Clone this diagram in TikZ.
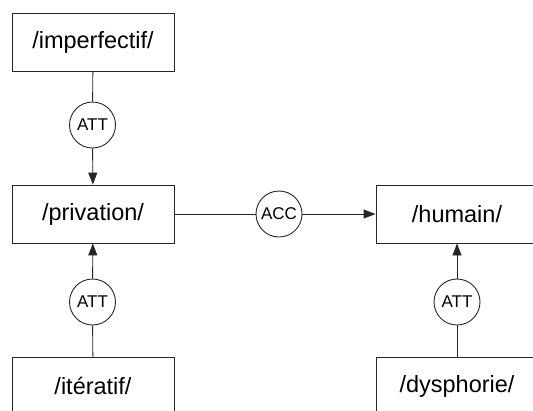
\documentclass[tikz,border=0pt]{standalone}
\usepackage{fontspec}
\setmainfont{Liberation Sans}
\usetikzlibrary{arrows.meta}
\begin{document}
\begin{tikzpicture}[x=1pt,y=-1pt,
  concept/.style={draw=black!85,line width=0.9pt,rectangle,minimum width=162pt,minimum height=58pt,inner sep=0pt,font=\fontsize{23.5}{26}\selectfont},
  relation/.style={draw=black!85,line width=0.9pt,circle,minimum size=46pt,inner sep=0pt,font=\fontsize{17}{19}\selectfont},
  link/.style={draw=black!85,line width=0.9pt},
  arrowlink/.style={link,-{Triangle[length=12pt,width=9pt]}}]
\useasboundingbox (0,0) rectangle (533,410);
\clip (0,0) rectangle (533,410);
% concept boxes
\node[concept] (imp) at (93,42.5) {/imperfectif/};
\node[concept] (priv) at (93,214) {/privation/};
\node[concept] (iter) at (93,386) {/itératif/};
\node[concept] (hum) at (457,214) {/humain/};
\node[concept] (dys) at (457,386) {/dysphorie/};
% relation circles
\node[relation] (att1) at (92.5,125) {ATT};
\node[relation] (att2) at (92.5,302) {ATT};
\node[relation] (att3) at (457,302) {ATT};
\node[relation] (acc) at (279,214) {ACC};
% connectors
\draw[link] (imp) -- (att1);
\draw[arrowlink] (att1) -- (priv);
\draw[link] (iter) -- (att2);
\draw[arrowlink] (att2) -- (priv);
\draw[link] (priv) -- (acc);
\draw[arrowlink] (acc) -- (hum);
\draw[link] (dys) -- (att3);
\draw[arrowlink] (att3) -- (hum);
\end{tikzpicture}
\end{document}
